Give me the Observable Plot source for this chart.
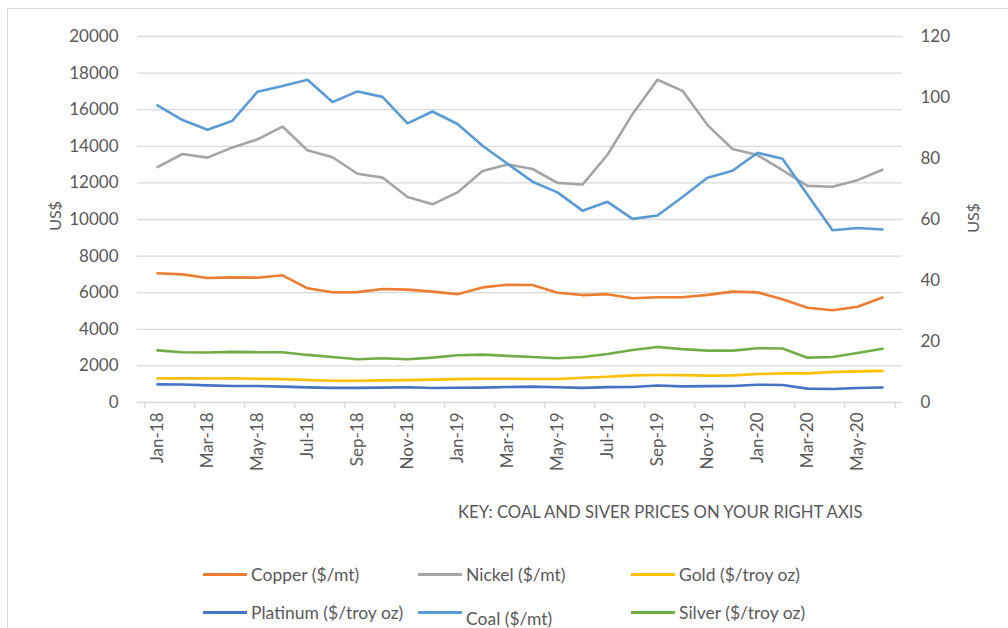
<!DOCTYPE html>
<html>
<head>
<meta charset="utf-8">
<script src="https://cdn.jsdelivr.net/npm/d3@7"></script>
<script src="https://cdn.jsdelivr.net/npm/@observablehq/plot@0.6"></script>
<style>
  html, body { margin: 0; padding: 0; background: #fff; }
  #wrap { position: relative; width: 1008px; height: 628px; overflow: hidden; background: #fff; font-family: Lato, "Liberation Sans", sans-serif; color: #595959; }
  #frame { position: absolute; left: 7px; top: 8px; width: 1100px; height: 700px; border: 1px solid #d9d9d9; }
  #chart { position: absolute; left: 0; top: 0; }
  .ytitle { position: absolute; font-size: 16px; transform: translate(-50%, -50%) rotate(-90deg); white-space: nowrap; }
  #key { position: absolute; left: 458px; top: 502px; font-size: 16.7px; white-space: nowrap; }
  .leg { position: absolute; display: flex; align-items: center; font-size: 17.5px; white-space: nowrap; }
  .leg .sw { width: 44px; height: 3px; margin-right: 4px; }
</style>
</head>
<body>
<div id="wrap">
  <div id="frame"></div>
  <div id="chart"></div>
  <div class="ytitle" style="left:54px; top:216px;">US$</div>
  <div class="ytitle" style="left:972px; top:218px;">US$</div>
  <div id="key">KEY: COAL AND SIVER PRICES ON YOUR RIGHT AXIS</div>
</div>
<script>
const months = ["Jan-18","Feb-18","Mar-18","Apr-18","May-18","Jun-18","Jul-18","Aug-18","Sep-18","Oct-18","Nov-18","Dec-18",
  "Jan-19","Feb-19","Mar-19","Apr-19","May-19","Jun-19","Jul-19","Aug-19","Sep-19","Oct-19","Nov-19","Dec-19",
  "Jan-20","Feb-20","Mar-20","Apr-20","May-20","Jun-20"];

// left axis (US$)
const copper = [7066, 7000, 6800, 6840, 6820, 6950, 6240, 6020, 6030, 6200, 6170, 6060, 5920, 6290, 6430, 6420, 6000, 5870, 5920, 5700, 5750, 5750, 5880, 6060, 6020, 5640, 5180, 5040, 5230, 5740];
const nickel = [12860, 13580, 13380, 13940, 14380, 15080, 13780, 13400, 12500, 12290, 11230, 10830, 11480, 12650, 13010, 12760, 12000, 11910, 13540, 15760, 17640, 17030, 15160, 13850, 13520, 12700, 11840, 11790, 12150, 12720];
const gold = [1320, 1320, 1320, 1320, 1300, 1280, 1230, 1190, 1190, 1210, 1220, 1250, 1280, 1300, 1300, 1285, 1285, 1350, 1410, 1480, 1500, 1495, 1470, 1480, 1555, 1590, 1590, 1670, 1700, 1730];
const platinum = [990, 985, 935, 905, 900, 870, 825, 800, 800, 815, 830, 795, 805, 815, 845, 870, 830, 800, 840, 850, 930, 880, 895, 905, 970, 955, 760, 740, 790, 820];
// right axis (US$)
const coal = [97.4, 92.6, 89.4, 92.4, 101.9, 103.8, 105.8, 98.5, 102, 100.2, 91.5, 95.4, 91.3, 84.2, 78.3, 72.4, 68.9, 62.9, 65.8, 60.2, 61.3, 67.4, 73.7, 76, 81.9, 79.9, 68.1, 56.5, 57.2, 56.7];
const silver = [17.1, 16.5, 16.4, 16.6, 16.5, 16.5, 15.6, 14.9, 14.2, 14.5, 14.2, 14.7, 15.5, 15.7, 15.3, 14.9, 14.5, 14.9, 15.9, 17.2, 18.2, 17.5, 17.0, 17.0, 17.8, 17.7, 14.7, 14.9, 16.2, 17.6];

const leftTicks = [0, 2000, 4000, 6000, 8000, 10000, 12000, 14000, 16000, 18000, 20000];
const rightTicks = [0, 20, 40, 60, 80, 100, 120];
const seriesNames = ["Copper ($/mt)", "Nickel ($/mt)", "Gold ($/troy oz)", "Platinum ($/troy oz)", "Coal ($/mt)", "Silver ($/troy oz)"];
const seriesColors = ["#ED7D31", "#A5A5A5", "#FFC000", "#4472C4", "#5B9BD5", "#70AD47"];
const seriesValues = [copper, nickel, gold, platinum, coal, silver];
const onRight = [false, false, false, false, true, true];

const leftMax = 20000, rightMax = 120;
const k = leftMax / rightMax;

const rows = [];
seriesNames.forEach((name, i) => {
  seriesValues[i].forEach((v, j) => rows.push({series: name, month: months[j], value: onRight[i] ? v * k : v}));
});

const W = 1008, H = 480;
const mL = 137, mR = 106, mT = 36, mB = 78;
const step = (W - mL - mR) / months.length;
const labelMonths = months.filter((d, i) => i % 2 === 0);

const chart = Plot.plot({
  width: W, height: H,
  marginLeft: mL, marginRight: mR, marginTop: mT, marginBottom: mB,
  style: {fontFamily: "Lato, 'Liberation Sans', sans-serif", color: "#595959", background: "transparent"},
  x: {type: "point", domain: months, padding: 0.5, align: 0.5},
  y: {domain: [0, leftMax]},
  color: {domain: seriesNames, range: seriesColors},
  marks: [
    Plot.ruleY(leftTicks, {stroke: "#d9d9d9", strokeWidth: 1.3}),
    Plot.axisY(leftTicks, {anchor: "left", tickSize: 0, tickPadding: 19, fontSize: 17, tickFormat: "d", label: null, color: "#595959"}),
    Plot.axisY(rightTicks.map(v => v * k), {anchor: "right", tickSize: 0, tickPadding: 18, fontSize: 17, tickFormat: d => String(Math.round(d / k)), label: null, color: "#595959"}),
    Plot.axisX(labelMonths, {anchor: "bottom", tickSize: 0, tickPadding: 10, tickRotate: -90, fontSize: 17, label: null, color: "#595959"}),
    Plot.axisX(labelMonths, {anchor: "bottom", tickSize: 6, dx: -step / 2, tickFormat: () => "", label: null, stroke: "#d9d9d9", strokeWidth: 1.3}),
    Plot.axisX([months[months.length - 1]], {anchor: "bottom", tickSize: 6, dx: step / 2, tickFormat: () => "", label: null, stroke: "#d9d9d9", strokeWidth: 1.3}),
    Plot.lineY(rows, {x: "month", y: "value", stroke: "series", z: "series", strokeWidth: 2.6, strokeLinejoin: "round", strokeLinecap: "round"})
  ]
});
document.getElementById("chart").appendChild(chart);

// legend
const legPos = [
  {left: 203, top: 574}, {left: 418, top: 574}, {left: 631, top: 574},
  {left: 203, top: 612}, {left: 418, top: 612}, {left: 631, top: 612}
];
const wrap = document.getElementById("wrap");
seriesNames.forEach((name, i) => {
  const el = document.createElement("div");
  el.className = "leg";
  el.style.left = legPos[i].left + "px";
  el.style.top = (legPos[i].top - 11) + "px";
  el.style.height = "22px";
  const sw = document.createElement("div");
  sw.className = "sw";
  sw.style.background = seriesColors[i];
  const tx = document.createElement("span");
  tx.textContent = name;
  if (name.startsWith("Coal")) { tx.style.position = "relative"; tx.style.top = "6px"; }
  el.appendChild(sw); el.appendChild(tx);
  wrap.appendChild(el);
});
</script>
</body>
</html>
